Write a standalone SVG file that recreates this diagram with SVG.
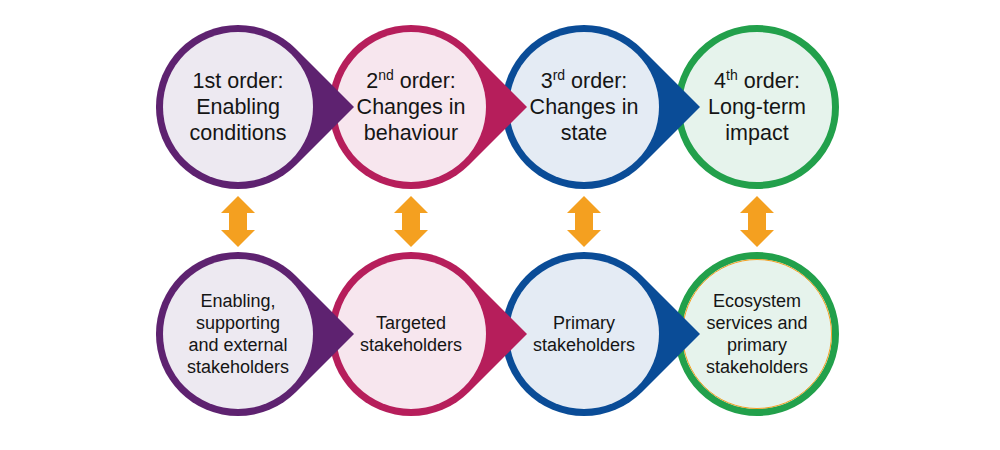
<svg xmlns="http://www.w3.org/2000/svg" width="1000" height="450" viewBox="0 0 1000 450">
<style>
text{font-family:"Liberation Sans",Arial,sans-serif;fill:#151515;text-anchor:middle}
.t{font-size:21.5px}
.b{font-size:18px}
.sup{font-size:14px}
.arr{fill:#F4A020}
</style>
<defs>
<path id="drop" d="M58,-58 L116,0 L58,58 A82,82 0 1 1 58,-58 Z"/>
<path id="dbl" d="M0,0 L17,17 L9,17 L9,34 L17,34 L0,51 L-17,34 L-9,34 L-9,17 L-17,17 Z"/>
</defs>
<rect width="1000" height="450" fill="#fff"/>

<g id="n4top">
<circle cx="757" cy="107" r="78.5" fill="#E6F3EC" stroke="#22A04B" stroke-width="7"/>
<text class="t" x="757" y="88">4<tspan class="sup" dy="-8">th</tspan><tspan dy="8"> order:</tspan></text>
<text class="t" x="757" y="114">Long-term</text>
<text class="t" x="757" y="140">impact</text>
</g>
<g id="n3top">
<use href="#drop" x="584" y="107" fill="#0A4C97"/>
<circle cx="584" cy="107" r="75" fill="#E4EBF4"/>
<text class="t" x="584" y="88">3<tspan class="sup" dy="-8">rd</tspan><tspan dy="8"> order:</tspan></text>
<text class="t" x="584" y="114">Changes in</text>
<text class="t" x="584" y="140">state</text>
</g>
<g id="n2top">
<use href="#drop" x="411" y="107" fill="#B61E5B"/>
<circle cx="411" cy="107" r="75" fill="#F7E6EE"/>
<text class="t" x="411" y="88">2<tspan class="sup" dy="-8">nd</tspan><tspan dy="8"> order:</tspan></text>
<text class="t" x="411" y="114">Changes in</text>
<text class="t" x="411" y="140">behaviour</text>
</g>
<g id="n1top">
<use href="#drop" x="238" y="107" fill="#5E2270"/>
<circle cx="238" cy="107" r="75" fill="#EDE9F1"/>
<text class="t" x="238" y="88">1st order:</text>
<text class="t" x="238" y="114">Enabling</text>
<text class="t" x="238" y="140">conditions</text>
</g>

<g id="n4bot">
<circle cx="757" cy="334" r="78.5" fill="#E6F3EC" stroke="#22A04B" stroke-width="7"/>
<circle cx="757" cy="334" r="74.5" fill="none" stroke="#F4A020" stroke-width="1"/>
<text class="b" x="757" y="307">Ecosystem</text>
<text class="b" x="757" y="329">services and</text>
<text class="b" x="757" y="351">primary</text>
<text class="b" x="757" y="373">stakeholders</text>
</g>
<g id="n3bot">
<use href="#drop" x="584" y="334" fill="#0A4C97"/>
<circle cx="584" cy="334" r="75" fill="#E4EBF4"/>
<text class="b" x="584" y="329">Primary</text>
<text class="b" x="584" y="351">stakeholders</text>
</g>
<g id="n2bot">
<use href="#drop" x="411" y="334" fill="#B61E5B"/>
<circle cx="411" cy="334" r="75" fill="#F7E6EE"/>
<text class="b" x="411" y="329">Targeted</text>
<text class="b" x="411" y="351">stakeholders</text>
</g>
<g id="n1bot">
<use href="#drop" x="238" y="334" fill="#5E2270"/>
<circle cx="238" cy="334" r="75" fill="#EDE9F1"/>
<text class="b" x="238" y="307">Enabling,</text>
<text class="b" x="238" y="329">supporting</text>
<text class="b" x="238" y="351">and external</text>
<text class="b" x="238" y="373">stakeholders</text>
</g>

<g id="connectors">
<use href="#dbl" class="arr" x="238" y="196"/>
<use href="#dbl" class="arr" x="411" y="196"/>
<use href="#dbl" class="arr" x="584" y="196"/>
<use href="#dbl" class="arr" x="757" y="196"/>
</g>
</svg>
